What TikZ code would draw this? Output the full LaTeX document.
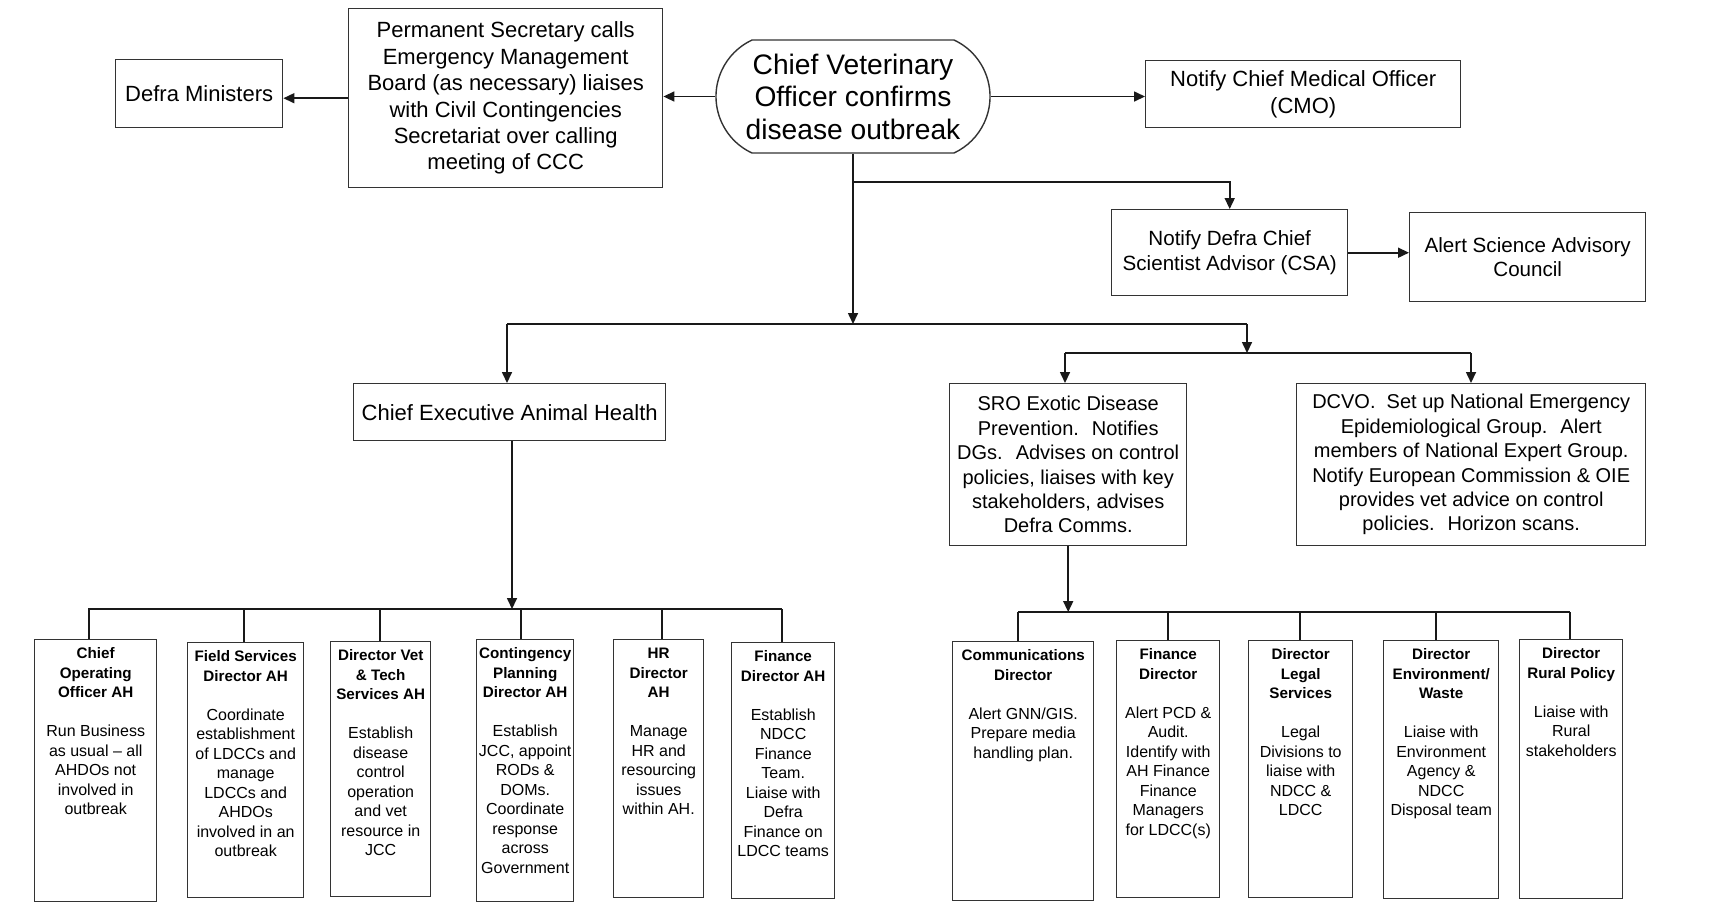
\documentclass[tikz,border=0pt]{standalone}
\usepackage{fontspec}
\setmainfont{Liberation Sans}
\usetikzlibrary{arrows.meta,shapes.misc}
\newcommand{\orgbox}[4]{\parbox[t][#2][t]{#1}{\centering\fontsize{8}{9.75}\selectfont\rule{0pt}{9.5pt}{\fontsize{7.6}{9.75}\selectfont\bfseries #3}\\[9.75pt]#4}}
\tikzset{
  ln/.style={draw=black!90, line width=0.8pt},
  arr/.style={ln, -{Triangle[length=5.5pt,width=5pt]}},
  box/.style={draw=black!80, line width=0.7pt, inner sep=0pt, align=center, anchor=north west},
  topbox/.style={box, font=\fontsize{11}{13.2}\selectfont},
  smallbox/.style={box, font=\fontsize{10.3}{12.4}\selectfont},
  midbox/.style={box, font=\fontsize{10}{12.2}\selectfont},
  lowbox/.style={draw=black!80, line width=0.7pt, inner sep=0pt, anchor=north west}
}
\begin{document}
\begin{tikzpicture}[x=0.5pt,y=-0.5pt]
\fill[white] (0,0) rectangle (1716,902);
\useasboundingbox (0,0) rectangle (1716,902);

% top row
\node[topbox, minimum width=83.5pt, minimum height=34pt] (defra) at (115,59) {Defra Ministers};
\node[topbox, minimum width=157pt, minimum height=89.5pt] (ps) at (348,8)
  {Permanent Secretary calls\\Emergency Management\\Board (as necessary) liaises\\with Civil Contingencies\\Secretariat over calling\\meeting of CCC};
\node[draw=black!80, line width=0.7pt, inner sep=0pt, align=center, rounded rectangle, rounded rectangle arc length=130,
      minimum width=137pt, minimum height=56.5pt, font=\fontsize{14.1}{16.25}\selectfont] (cvo) at (853,96.5)
  {Chief Veterinary\\Officer confirms\\disease outbreak};
\node[topbox, minimum width=157.5pt, minimum height=33.5pt] (cmo) at (1145,60) {Notify Chief Medical Officer\\(CMO)};
\node[smallbox, minimum width=118pt, minimum height=43pt] (csa) at (1111,209) {Notify Defra Chief\\Scientist Advisor (CSA)};
\node[smallbox, minimum width=118pt, minimum height=44.5pt] (sci) at (1409,212) {Alert Science Advisory\\Council};

% middle row
\node[topbox, minimum width=156pt, minimum height=28.5pt] (ce) at (353,383) {Chief Executive Animal Health};
\node[midbox, minimum width=118.5pt, minimum height=81pt] (sro) at (949,383)
  {SRO Exotic Disease\\Prevention.~ Notifies\\DGs.~ Advises on control\\policies, liaises with key\\stakeholders, advises\\Defra Comms.};
\node[midbox, minimum width=174.5pt, minimum height=81pt] (dcvo) at (1296,383)
  {DCVO.~ Set up National Emergency\\Epidemiological Group.~ Alert\\members of National Expert Group.\\Notify European Commission \& OIE\\provides vet advice on control\\policies.~ Horizon scans.};

% bottom left
\node[lowbox] (coo) at (34,639) {\orgbox{61pt}{131pt}{Chief\\Operating\\Officer AH}{Run Business\\as usual -- all\\AHDOs not\\involved in\\outbreak}};
\node[lowbox] (field) at (187,642) {\orgbox{58pt}{127.5pt}{Field Services\\Director AH}{Coordinate\\establishment\\of LDCCs and\\manage\\LDCCs and\\AHDOs\\involved in an\\outbreak}};
\node[lowbox] (vet) at (330,641) {\orgbox{50pt}{127.5pt}{Director Vet\\\& Tech\\Services AH}{Establish\\disease\\control\\operation\\and vet\\resource in\\JCC}};
\node[lowbox] (cont) at (476,639) {\orgbox{48.5pt}{131pt}{Contingency\\Planning\\Director AH}{Establish\\JCC, appoint\\RODs \&\\DOMs.\\Coordinate\\response\\across\\Government}};
\node[lowbox] (hr) at (613,639) {\orgbox{45pt}{129pt}{HR\\Director\\AH}{Manage\\HR and\\resourcing\\issues\\within AH.}};
\node[lowbox] (finah) at (731,642) {\orgbox{51.5pt}{128pt}{Finance\\Director AH}{Establish\\NDCC\\Finance\\Team.\\Liaise with\\Defra\\Finance on\\LDCC teams}};

% bottom right
\node[lowbox] (comms) at (952,641) {\orgbox{70.5pt}{129.5pt}{Communications\\Director}{Alert GNN/GIS.\\Prepare media\\handling plan.}};
\node[lowbox] (find) at (1116,640) {\orgbox{51.5pt}{128.5pt}{Finance\\Director}{Alert PCD \&\\Audit.\\Identify with\\AH Finance\\Finance\\Managers\\for LDCC(s)}};
\node[lowbox] (legal) at (1248,640) {\orgbox{52pt}{128.5pt}{Director\\Legal\\Services}{Legal\\Divisions to\\liaise with\\NDCC \&\\LDCC}};
\node[lowbox] (env) at (1383,640) {\orgbox{57.5pt}{129pt}{Director\\Environment/\\Waste}{Liaise with\\Environment\\Agency \&\\NDCC\\Disposal team}};
\node[lowbox] (rural) at (1519,639) {\orgbox{51.5pt}{129.5pt}{Director\\Rural Policy}{Liaise with\\Rural\\stakeholders}};

% connectors top
\draw[arr] (cvo.west) -- (cvo.west -| ps.east);
\draw[arr] (ps.west) -- (ps.west -| defra.east);
\draw[arr] (cvo.east) -- (cvo.east -| cmo.west);
\coordinate (k1) at (853,182);
\draw[arr] (k1) -| (csa.north);
\draw[arr] (csa.east) -- (csa.east -| sci.west);

\coordinate (b1) at (507,324);
\coordinate (b2) at (1247,324);
\draw[arr] (cvo.south) -- (cvo.south |- b1);
\draw[ln] (b1) -- (b2);
\draw[arr] (b1) -- (b1 |- ce.north);
\coordinate (c1) at (1065,353);
\coordinate (c2) at (1471,353);
\draw[arr] (b2) -- (b2 |- c1);
\draw[ln] (c1) -- (c2);
\draw[arr] (c1) -- (c1 |- sro.north);
\draw[arr] (c2) -- (c2 |- dcvo.north);

% bottom left bus
\coordinate (L1) at (88,609);
\coordinate (L2) at (782,609);
\coordinate (cex) at (512,440);
\draw[arr] (cex |- ce.south) -- (cex |- L1);
\draw[ln] (L1) -- (L2);
\foreach \n/\x in {coo/89, field/244, vet/380, cont/521, hr/662, finah/782}
  \draw[ln] (\x,609) -- (\x,0 |- \n.north);

% bottom right bus
\coordinate (R1) at (1018,612);
\coordinate (R2) at (1570,612);
\draw[arr] (sro.south) -- (sro.south |- R1);
\draw[ln] (R1) -- (R2);
\foreach \n/\x in {comms/1018, find/1168, legal/1300, env/1436, rural/1570}
  \draw[ln] (\x,612) -- (\x,0 |- \n.north);
\end{tikzpicture}
\end{document}
